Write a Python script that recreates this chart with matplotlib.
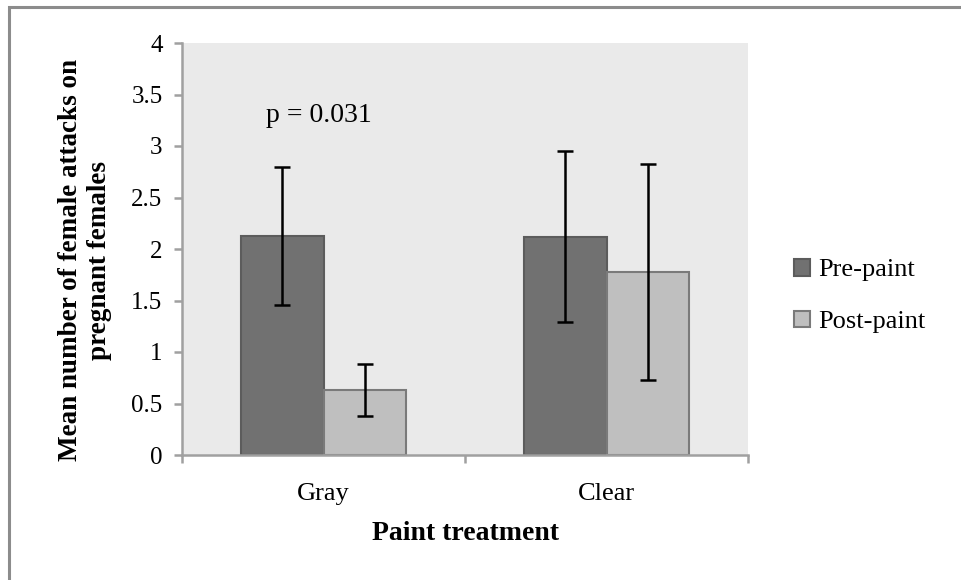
import matplotlib.pyplot as plt
import numpy as np
from matplotlib.patches import Rectangle

categories = ['Gray', 'Clear']
pre_paint = [2.13, 2.12]
post_paint = [0.63, 1.78]
pre_err = [0.67, 0.83]
post_err = [0.25, 1.05]
series_names = ['Pre-paint', 'Post-paint']
p_text = 'p = 0.031'

plt.rcParams['font.family'] = ['Liberation Serif', 'DejaVu Serif']

fig = plt.figure(figsize=(9.61, 5.8), dpi=100)
ax = fig.add_axes([182 / 961, 1 - 455 / 580, (748 - 182) / 961, (455 - 43) / 580])

# figure frame (only top and left edges visible)
fig.patches.append(Rectangle((9 / 961, -0.05), 1.2, (1 - 7 / 580) + 0.05, transform=fig.transFigure,
                             fill=False, edgecolor='#8c8c8c', linewidth=2.2, zorder=0))

x = np.arange(len(categories))
w = 0.29
err_kw = dict(ecolor='black', elinewidth=1.8, capsize=6, capthick=1.8)
ax.bar(x - w / 2, pre_paint, w, yerr=pre_err, color='#717171', edgecolor='#5c5c5c',
       linewidth=1.5, label=series_names[0], error_kw=err_kw, zorder=2)
ax.bar(x + w / 2, post_paint, w, yerr=post_err, color='#bfbfbf', edgecolor='#7a7a7a',
       linewidth=1.5, label=series_names[1], error_kw=err_kw, zorder=2)

ax.text(-0.015, 3.3, p_text, ha='center', va='center', fontsize=20)

ax.set_facecolor('#eaeaea')
ax.set_xlim(-0.5, 1.5)
ax.set_ylim(0, 4)
ax.set_yticks(np.arange(0, 4.01, 0.5))
ax.set_yticklabels(['0', '0.5', '1', '1.5', '2', '2.5', '3', '3.5', '4'])
ax.set_xticks([-0.5, 0.5, 1.5])
ax.set_xticklabels(['', '', ''])
ax.set_xticks(x, minor=True)
ax.set_xticklabels(categories, minor=True)
ax.tick_params(axis='x', which='minor', length=0, pad=20, labelsize=19)
ax.tick_params(axis='x', which='major', length=6, width=1.8, color='#a0a0a0', direction='out')
ax.tick_params(axis='y', length=6, width=1.8, color='#a0a0a0', direction='out', labelsize=18, pad=8)

for s in ['top', 'right']:
    ax.spines[s].set_visible(False)
for s in ['left', 'bottom']:
    ax.spines[s].set_color('#a0a0a0')
    ax.spines[s].set_linewidth(1.8)

fig.text(85 / 961, 1 - 260 / 580, 'Mean number of female attacks on\npregnant females',
         rotation=90, ha='center', va='center', fontsize=19.5, fontweight='bold',
         multialignment='center', linespacing=1.25)
fig.text(465 / 961, 1 - 534 / 580, 'Paint treatment', ha='center', va='center',
         fontsize=20, fontweight='bold')

ax.legend(loc='center left', bbox_to_anchor=(794 / 961, 1 - 296 / 580),
          bbox_transform=fig.transFigure, frameon=False, fontsize=19,
          handlelength=0.6, handleheight=0.6, handletextpad=0.3, labelspacing=1.1,
          borderaxespad=0, borderpad=0)

fig.savefig('out.png', dpi=100)
